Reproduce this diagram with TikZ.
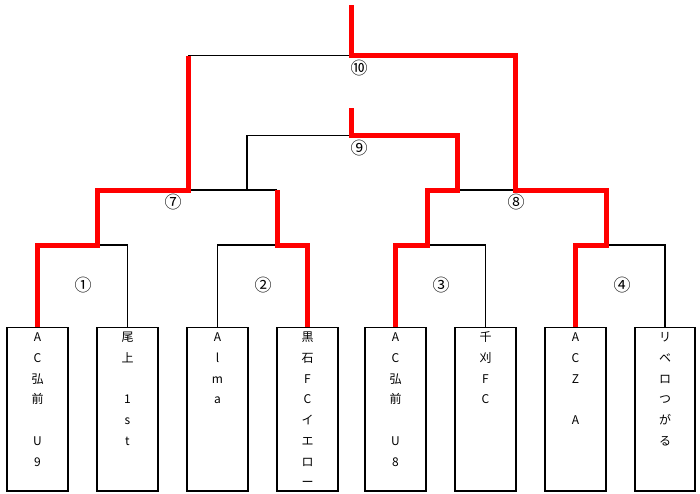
\documentclass[tikz,border=0pt]{standalone}
\usepackage{fontspec}
\setmainfont{Noto Sans CJK JP}
\begin{document}
\begin{tikzpicture}[x=1pt,y=-1pt,
  lose/.style={draw=black, line width=1.9pt, line join=miter},
  win/.style={draw=red, line width=5pt, line join=miter, line cap=butt},
  teambox/.style={draw=black, line width=1.8pt, minimum width=60.5pt, minimum height=163.5pt, anchor=north, inner sep=0pt},
  ch/.style={anchor=base, inner sep=0pt, font=\fontsize{12pt}{13pt}\selectfont},
  mno/.style={inner sep=0pt, font=\fontsize{17pt}{19pt}\selectfont}]
\useasboundingbox (0,0) rectangle (700,493);
\fill[white] (0,0) rectangle (700,493);

% team boxes
\node[teambox] (b1) at (37.5,326.5) {};
\node[teambox] (b2) at (127.5,326.5) {};
\node[teambox] (b3) at (217.5,326.5) {};
\node[teambox] (b4) at (307.5,326.5) {};
\node[teambox] (b5) at (395.5,326.5) {};
\node[teambox] (b6) at (485.5,326.5) {};
\node[teambox] (b7) at (575.5,326.5) {};
\node[teambox] (b8) at (665,326.5) {};

% team names (vertical)
\foreach \c [count=\i] in {A,C,弘,前,{},U,9}
  \node[ch] (t1-\i) at (37.5,341.8+20.7*\i-20.7) {\c};
\foreach \c [count=\i] in {尾,上,{},1,s,t}
  \node[ch] (t2-\i) at (127.5,341.8+20.7*\i-20.7) {\c};
\foreach \c [count=\i] in {A,l,m,a}
  \node[ch] (t3-\i) at (217.5,341.8+20.7*\i-20.7) {\c};
\foreach \c [count=\i] in {黒,石,F,C,イ,エ,ロ,ー}
  \node[ch] (t4-\i) at (307.5,341.8+20.7*\i-20.7) {\c};
\foreach \c [count=\i] in {A,C,弘,前,{},U,8}
  \node[ch] (t5-\i) at (395.5,341.8+20.7*\i-20.7) {\c};
\foreach \c [count=\i] in {千,刈,F,C}
  \node[ch] (t6-\i) at (485.5,341.8+20.7*\i-20.7) {\c};
\foreach \c [count=\i] in {A,C,Z,{},A}
  \node[ch] (t7-\i) at (575.5,341.8+20.7*\i-20.7) {\c};
\foreach \c [count=\i] in {リ,ベ,ロ,つ,が,る}
  \node[ch] (t8-\i) at (665,341.8+20.7*\i-20.7) {\c};

% junction coordinates
\coordinate (m1l) at (37.5,245);  \coordinate (m1s) at (97,245);  \coordinate (m1r) at (127.5,245);
\coordinate (m2l) at (217.5,245); \coordinate (m2s) at (277,245); \coordinate (m2r) at (307.5,245);
\coordinate (m3l) at (395.5,245); \coordinate (m3s) at (427,245); \coordinate (m3r) at (485.5,245);
\coordinate (m4l) at (575.5,245); \coordinate (m4s) at (606,245); \coordinate (m4r) at (665,245);
\coordinate (m7l) at (97,190);  \coordinate (m7a) at (188,190); \coordinate (m7b) at (247,190); \coordinate (m7r) at (277,190);
\coordinate (m8l) at (427,190); \coordinate (m8a) at (457,190); \coordinate (m8b) at (515,190); \coordinate (m8r) at (606,190);
\coordinate (m9l) at (247,135.5); \coordinate (m9s) at (351,135.5); \coordinate (m9r) at (457,135.5);
\coordinate (m9t) at (351,108);
\coordinate (m10l) at (188,55.5); \coordinate (m10s) at (351,55.5); \coordinate (m10r) at (515,55.5);
\coordinate (m10t) at (351,5);

% losing paths (black)
\draw[lose] (m1s) -- (m1r) -- (b2.north);
\draw[lose] (b3.north) -- (m2l) -- (m2s);
\draw[lose] (m3s) -- (m3r) -- (b6.north);
\draw[lose] (m4s) -- (m4r) -- (b8.north);
\draw[lose] (m7a) -- (m7r);
\draw[lose] (m7b) -- (m9l) -- (m9s);
\draw[lose] (m8a) -- (m8b);
\draw[lose] (m10l) -- (m10s);

% winning paths (red)
\draw[win] (b1.north) -- (m1l) -- (m1s) -- (m7l) -- (m7a) -- (m10l);
\draw[win] (m7r) -- (m2s) -- (m2r) -- (b4.north);
\draw[win] (b5.north) -- (m3l) -- (m3s) -- (m8l) -- (m8a) -- (m9r) -- (m9s) -- (m9t);
\draw[win] (b7.north) -- (m4l) -- (m4s) -- (m8r) -- (m8b) -- (m10r) -- (m10s) -- (m10t);

% match numbers
\node[mno] (n1) at (83,285) {①};
\node[mno] (n2) at (263,285) {②};
\node[mno] (n3) at (441,285) {③};
\node[mno] (n4) at (622,285) {④};
\node[mno] (n7) at (173,202) {⑦};
\node[mno] (n8) at (516,202) {⑧};
\node[mno] (n9) at (359,148) {⑨};
\node[mno] (n10) at (359,68) {⑩};
\end{tikzpicture}
\end{document}
